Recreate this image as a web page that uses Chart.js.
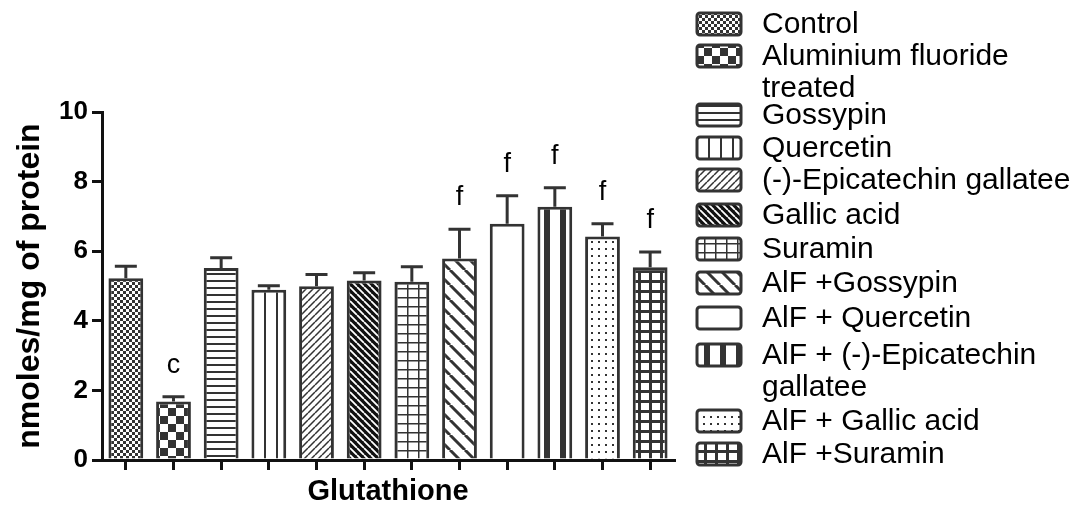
<!DOCTYPE html>
<html>
<head>
<meta charset="utf-8">
<script src="https://cdn.jsdelivr.net/npm/chart.js@4.4.1/dist/chart.umd.min.js"></script>
<style>
  html, body { margin: 0; padding: 0; background: #fff; }
  canvas { display: block; }
</style>
</head>
<body>
<canvas id="chart" width="1086" height="506"></canvas>
<script>
// groups (legend text, "\n" where the legend wraps)
const groups = [
  "Control",
  "Aluminium fluoride\ntreated",
  "Gossypin",
  "Quercetin",
  "(-)-Epicatechin gallatee",
  "Gallic acid",
  "Suramin",
  "AlF +Gossypin",
  "AlF + Quercetin",
  "AlF + (-)-Epicatechin\ngallatee",
  "AlF + Gallic acid",
  "AlF +Suramin"
];
const means = [5.22, 1.68, 5.52, 4.89, 4.99, 5.16, 5.12, 5.79, 6.79, 7.28, 6.42, 5.54];
const sems = [0.35, 0.14, 0.29, 0.12, 0.34, 0.22, 0.43, 0.84, 0.80, 0.54, 0.37, 0.44];
const sigLetters = ["", "c", "", "", "", "", "", "f", "f", "f", "f", "f"];
const yTicks = [0, 2, 4, 6, 8, 10];
const xTitle = "Glutathione";
const yTitle = "nmoles/mg of protein";

// look
const fills = ["checkFine", "checkCoarse", "hLines", "vLines", "diagFwd", "diagBackDense",
               "gridFine", "diagBackSparse", "blank", "vThick", "dots", "gridThick"];
const INK = "#333";
const FONT = '"Liberation Sans", Arial, sans-serif';

function makePattern(kind) {
  const c = document.createElement("canvas");
  const sizes = {
    checkFine: [6, 6], checkCoarse: [16, 16], hLines: [4, 7], vLines: [12, 4],
    diagFwd: [7, 7], diagBackDense: [7, 7], gridFine: [11, 9], diagBackSparse: [15, 15],
    blank: [4, 4], vThick: [16, 4], dots: [7, 7], gridThick: [11, 10]
  };
  const [w, h] = sizes[kind];
  c.width = w; c.height = h;
  const g = c.getContext("2d");
  g.fillStyle = "#fff";
  g.fillRect(0, 0, w, h);
  g.fillStyle = INK;
  g.strokeStyle = INK;
  const diag = (lw, back, col) => {
    g.lineWidth = lw;
    g.strokeStyle = col || INK;
    g.beginPath();
    for (const d of [-w, 0, w]) {
      if (back) { g.moveTo(d, 0); g.lineTo(d + w, h); }
      else { g.moveTo(d, h); g.lineTo(d + w, 0); }
    }
    g.stroke();
  };
  switch (kind) {
    case "checkFine": g.fillRect(0, 0, 3, 3); g.fillRect(3, 3, 3, 3); break;
    case "checkCoarse": g.fillRect(0, 0, 8, 8); g.fillRect(8, 8, 8, 8); break;
    case "hLines": g.fillRect(0, 0, w, 2); break;
    case "vLines": g.fillRect(0, 0, 2, h); break;
    case "diagFwd": diag(1.5, false); break;
    case "diagBackDense":
      // black field with thin white back-diagonal stripes
      g.fillStyle = "#111"; g.fillRect(0, 0, w, h);
      diag(1.8, true, "#fff");
      break;
    case "gridFine": g.fillRect(0, 0, 1.5, h); g.fillRect(0, 0, w, 1.5); break;
    case "diagBackSparse": diag(3, true); break;
    case "vThick": g.fillRect(0, 0, 6, h); break;
    case "dots": g.fillRect(3, 3, 2, 2); break;
    case "gridThick": g.fillRect(0, 0, 3, h); g.fillRect(0, 0, w, 3); break;
  }
  return g.createPattern(c, "repeat");
}
const patterns = fills.map(makePattern);

// legend rows (first-line centre y of each entry)
const legendRowY = [24, 56, 115, 148, 180, 215, 249, 283, 318, 355, 421, 454];

const extras = {
  id: "extras",
  afterDatasetsDraw(chart) {
    const ctx = chart.ctx;
    const meta = chart.getDatasetMeta(0);
    const y = chart.scales.y;
    ctx.save();
    ctx.strokeStyle = INK;
    ctx.lineWidth = 3;
    meta.data.forEach((bar, i) => {
      const base = y.getPixelForValue(means[i]);
      const top = y.getPixelForValue(means[i] + sems[i]);
      ctx.beginPath();
      ctx.moveTo(bar.x, base);
      ctx.lineTo(bar.x, top);
      ctx.moveTo(bar.x - 11, top);
      ctx.lineTo(bar.x + 11, top);
      ctx.stroke();
      if (sigLetters[i]) {
        ctx.fillStyle = "#000";
        ctx.font = "27px " + FONT;
        ctx.textAlign = "center";
        ctx.textBaseline = "alphabetic";
        ctx.fillText(sigLetters[i], bar.x, top - 24);
      }
    });
    ctx.restore();
  },
  afterDraw(chart) {
    const ctx = chart.ctx;
    ctx.save();
    ctx.font = "30px " + FONT;
    ctx.textAlign = "left";
    ctx.textBaseline = "middle";
    groups.forEach((name, i) => {
      const cy = legendRowY[i];
      ctx.beginPath();
      ctx.roundRect(697, cy - 11, 44, 22, 3);
      ctx.fillStyle = patterns[i];
      ctx.fill();
      ctx.lineWidth = 3;
      ctx.strokeStyle = INK;
      ctx.stroke();
      ctx.fillStyle = "#000";
      name.split("\n").forEach((line, k) => ctx.fillText(line, 762, cy + 1 + k * 32));
    });
    ctx.restore();
  }
};

new Chart(document.getElementById("chart").getContext("2d"), {
  type: "bar",
  data: {
    labels: groups,
    datasets: [{
      data: means,
      backgroundColor: patterns,
      borderColor: INK,
      borderWidth: 3,
      barPercentage: 0.73,
      categoryPercentage: 1
    }]
  },
  options: {
    responsive: false,
    animation: false,
    devicePixelRatio: 1,
    layout: { padding: { top: 112, right: 412, left: 0, bottom: 0 } },
    plugins: { legend: { display: false }, tooltip: { enabled: false } },
    scales: {
      x: {
        afterFit(s) { s.height = 46; },
        grid: { display: true, drawOnChartArea: false, offset: false, tickLength: 10, lineWidth: 3, color: "#111" },
        border: { display: true, width: 3, color: "#111" },
        ticks: { callback: () => "", autoSkip: false },
        title: { display: true, text: xTitle, color: "#000", font: { family: FONT, size: 29, weight: "bold", lineHeight: 1 }, padding: 0 }
      },
      y: {
        min: 0, max: 10,
        afterFit(s) { s.width = 102; },
        afterBuildTicks(s) { s.ticks = yTicks.map(v => ({ value: v })); },
        grid: { display: true, drawOnChartArea: false, tickLength: 10, lineWidth: 3, color: "#111" },
        border: { display: true, width: 3, color: "#111" },
        ticks: { color: "#000", padding: 4, font: { family: FONT, size: 26, weight: "bold" } },
        title: { display: true, text: yTitle, color: "#000", font: { family: FONT, size: 32, weight: "bold", lineHeight: 1.2 }, padding: { top: 11, bottom: 0 } }
      }
    }
  },
  plugins: [extras]
});
</script>
</body>
</html>
